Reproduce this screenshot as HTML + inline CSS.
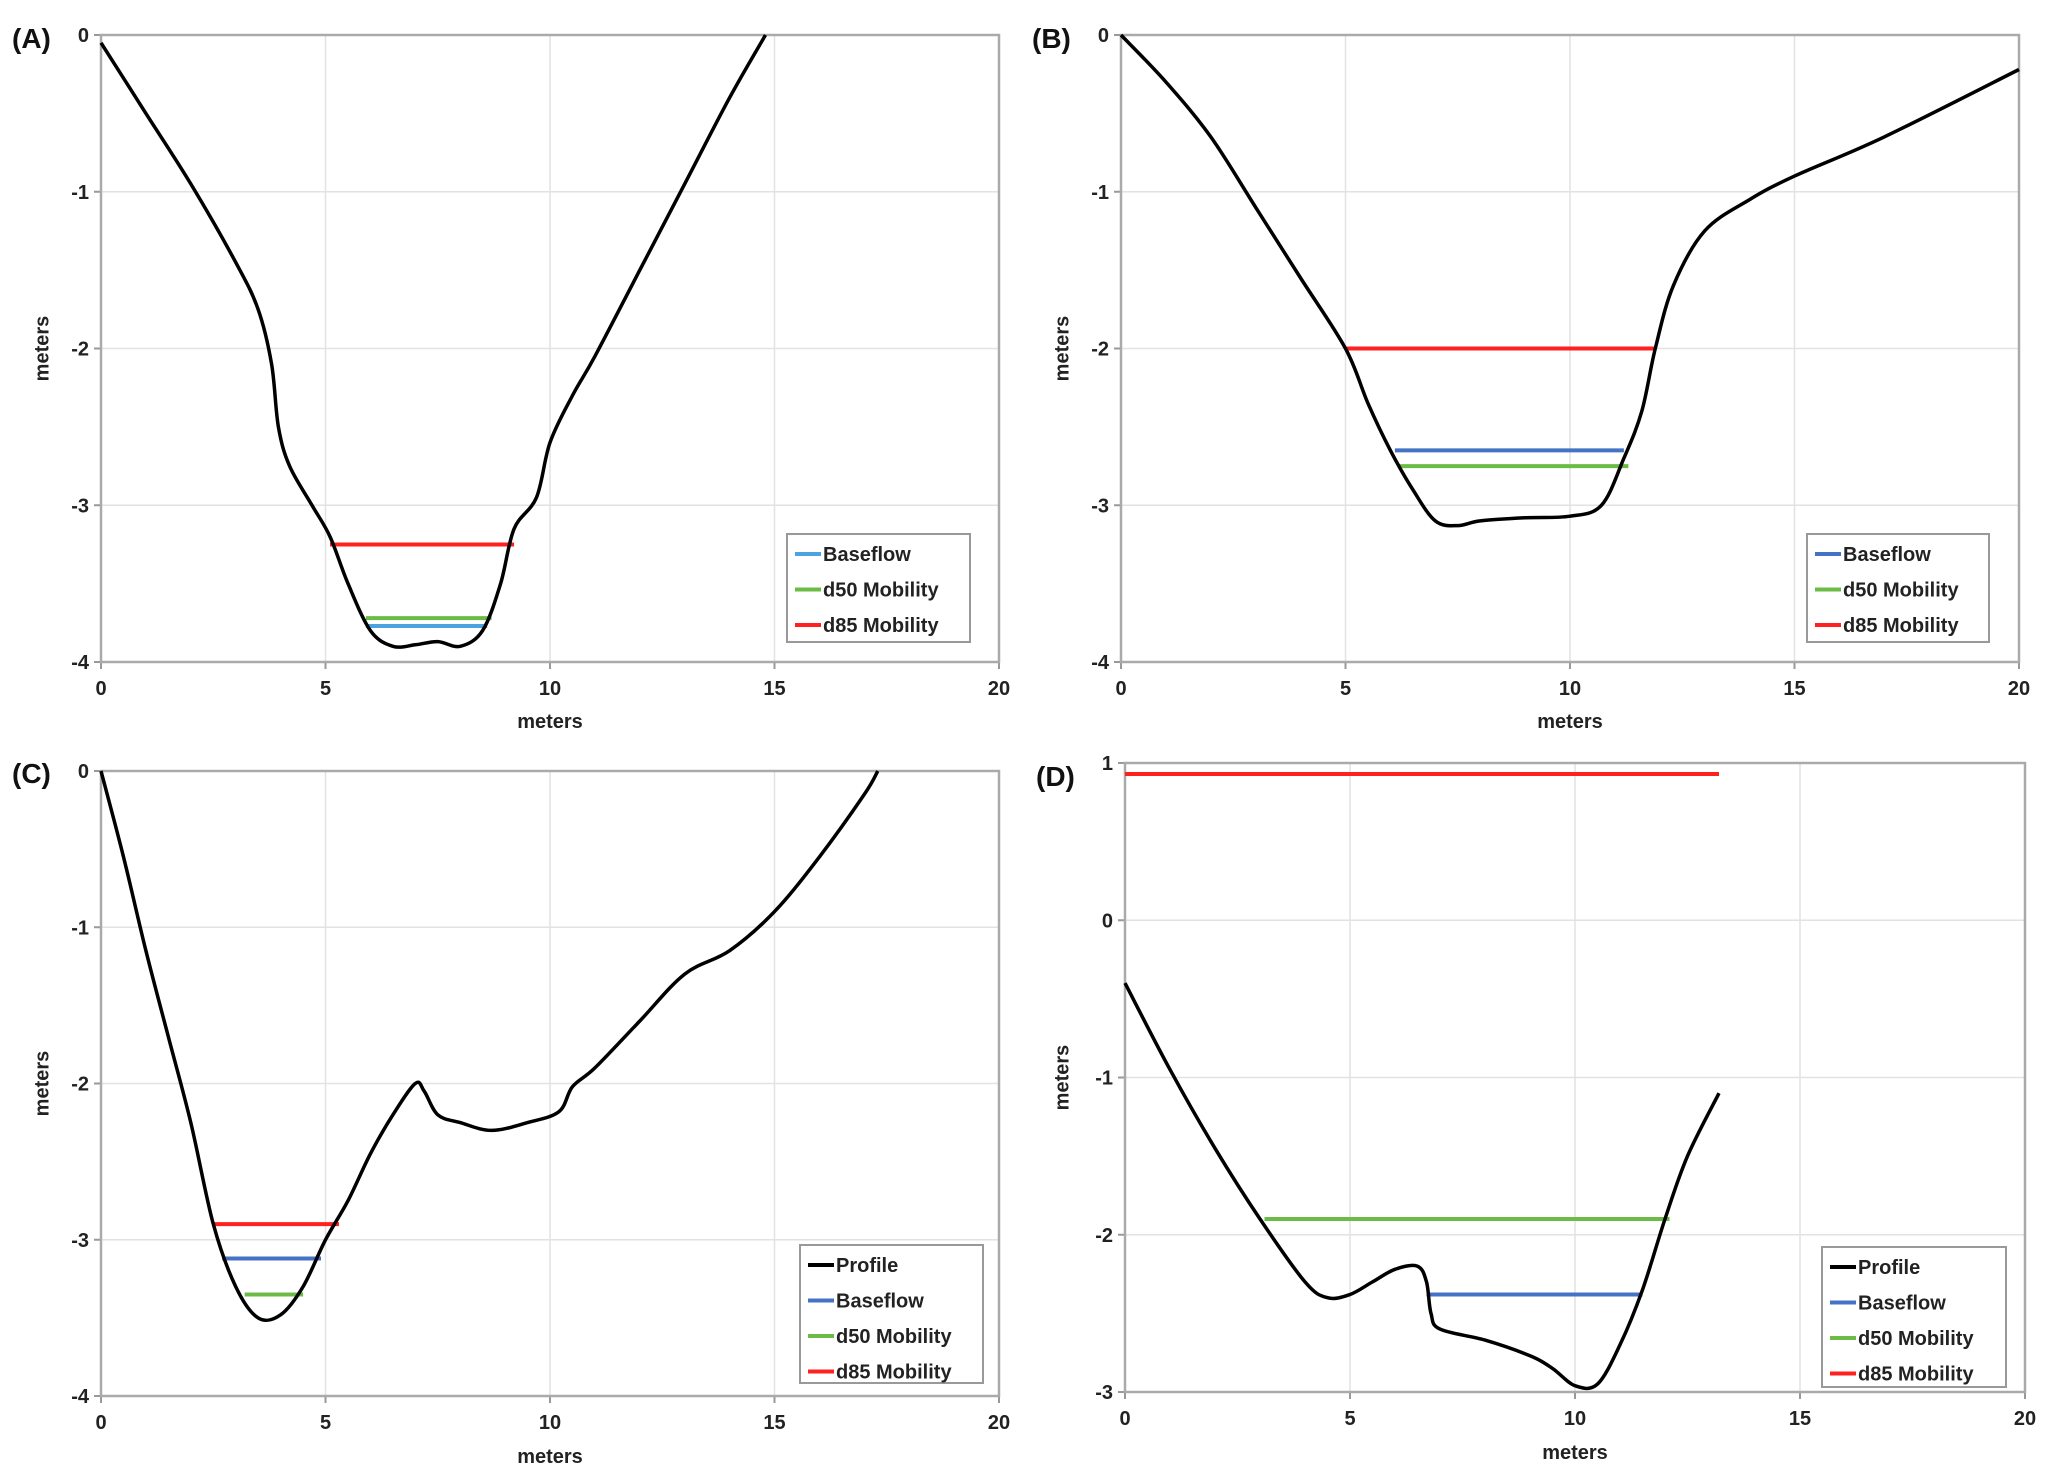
<!DOCTYPE html>
<html><head><meta charset="utf-8"><style>
html,body{margin:0;padding:0;background:#fff;}
svg{display:block;font-family:"Liberation Sans",Arial,sans-serif;}
</style></head><body>
<svg id="fig" width="2056" height="1481" viewBox="0 0 2056 1481"></svg>
<script>
const panelLabels = ["(A)","(B)","(C)","(D)"];
const xTicks = [0,5,10,15,20];
const yTicksA = [0,-1,-2,-3,-4];
const yTicksD = [1,0,-1,-2,-3];
const profileAx = [0,1,2,3,3.5,3.8,3.95,4.2,4.7,5.1,5.5,6,6.5,7,7.5,8,8.5,8.9,9.2,9.7,10,10.5,11,12,13,14,14.8];
const profileAy = [-0.05,-0.5,-0.95,-1.45,-1.75,-2.1,-2.5,-2.75,-3.0,-3.2,-3.5,-3.8,-3.9,-3.89,-3.87,-3.9,-3.8,-3.5,-3.15,-2.95,-2.6,-2.3,-2.05,-1.5,-0.95,-0.4,0];
const profileBx = [0,1,2,3,4,5,5.5,6,6.5,7,7.5,8,9,10,10.7,11.2,11.6,11.9,12.3,13,14,15,17,20];
const profileBy = [0,-0.3,-0.65,-1.1,-1.55,-2.0,-2.35,-2.65,-2.9,-3.1,-3.13,-3.1,-3.08,-3.07,-3.0,-2.7,-2.4,-2.0,-1.6,-1.25,-1.05,-0.9,-0.65,-0.22];
const profileCx = [0,0.5,1,1.5,2,2.5,3,3.5,4,4.5,5,5.5,6,6.5,7,7.2,7.5,8,8.7,9.5,10.2,10.5,11,12,13,14,15,16,17,17.3];
const profileCy = [0,-0.55,-1.15,-1.7,-2.25,-2.9,-3.3,-3.5,-3.48,-3.3,-3.0,-2.75,-2.45,-2.2,-2.0,-2.05,-2.2,-2.25,-2.3,-2.25,-2.18,-2.02,-1.9,-1.6,-1.3,-1.15,-0.9,-0.55,-0.15,0];
const profileDx = [0,1,2,3,4,4.5,5,5.5,6,6.5,6.7,6.8,7,8,9,9.5,10,10.5,11,11.5,12,12.5,13.2];
const profileDy = [-0.4,-0.95,-1.45,-1.9,-2.3,-2.4,-2.38,-2.3,-2.22,-2.2,-2.3,-2.5,-2.6,-2.67,-2.77,-2.85,-2.96,-2.95,-2.7,-2.35,-1.9,-1.5,-1.1];
// levels: [y, x0, x1] for baseflow, d50, d85
const baseflowLevels = [[-3.77,5.9,8.6],[-2.65,6.1,11.2],[-3.12,2.7,4.9],[-2.38,6.7,11.5]];
const d50Levels = [[-3.72,5.9,8.7],[-2.75,6.2,11.3],[-3.35,3.2,4.5],[-1.9,3.1,12.1]];
const d85Levels = [[-3.25,5.1,9.2],[-2.0,5.0,11.9],[-2.9,2.5,5.3],[0.93,0,13.2]];

const NS="http://www.w3.org/2000/svg";
const svg=document.getElementById('fig');
function mk(tag,attrs,parent){const e=document.createElementNS(NS,tag);for(const k in attrs)e.setAttribute(k,attrs[k]);(parent||svg).appendChild(e);return e;}

const panels=[
 {L:101,R:999,T:35,B:662,ymin:-4,ymax:0,yt:yTicksA,px:profileAx,py:profileAy,prof:false,blue:"#4da3e0",leg:[787,534,183,108],lab:[12,48],xt:722,yl:43},
 {L:1121,R:2019,T:35,B:662,ymin:-4,ymax:0,yt:yTicksA,px:profileBx,py:profileBy,prof:false,blue:"#4472c4",leg:[1807,534,182,108],lab:[1032,48],xt:722,yl:1063},
 {L:101,R:999,T:771,B:1396,ymin:-4,ymax:0,yt:yTicksA,px:profileCx,py:profileCy,prof:true,blue:"#4472c4",leg:[800,1245,183,138],lab:[12,783],xt:1457,yl:43},
 {L:1125,R:2025,T:763,B:1392,ymin:-3,ymax:1,yt:yTicksD,px:profileDx,py:profileDy,prof:true,blue:"#4472c4",leg:[1822,1247,184,140],lab:[1036,786],xt:1453,yl:1063}
];
function smooth(pts){let d="M"+pts[0][0]+","+pts[0][1];for(let i=0;i<pts.length-1;i++){const p0=pts[Math.max(0,i-1)],p1=pts[i],p2=pts[i+1],p3=pts[Math.min(pts.length-1,i+2)];const c1=[p1[0]+(p2[0]-p0[0])/6,p1[1]+(p2[1]-p0[1])/6],c2=[p2[0]-(p3[0]-p1[0])/6,p2[1]-(p3[1]-p1[1])/6];d+=" C"+c1+" "+c2+" "+p2;}return d;}

panels.forEach((p,i)=>{
 const g=mk('g',{});
 
 
 const sx=v=>p.L+(v-0)/20*(p.R-p.L);
 const sy=v=>p.B-(v-p.ymin)/(p.ymax-p.ymin)*(p.B-p.T);
 xTicks.forEach(t=>{
  if(t>0){const gl=mk('line',{x1:sx(t),x2:sx(t),y1:p.T,y2:p.B,stroke:"#e2e2e2","stroke-width":1.5},g);}
  mk('line',{x1:sx(t),x2:sx(t),y1:p.B,y2:p.B+7,stroke:"#999","stroke-width":2},g);
  const tx=mk('text',{x:sx(t),y:p.B+33,"text-anchor":"middle","font-size":20,"font-weight":"bold",fill:"#222"},g);tx.textContent=t;
  
 });
 p.yt.forEach(t=>{
  const y=sy(t);
  if(t!==p.ymin){const gl=mk('line',{x1:p.L,x2:p.R,y1:y,y2:y,stroke:"#e2e2e2","stroke-width":1.5},g);}
  mk('line',{x1:p.L-7,x2:p.L,y1:y,y2:y,stroke:"#999","stroke-width":2},g);
  const tx=mk('text',{x:p.L-12,y:y+7,"text-anchor":"end","font-size":20,"font-weight":"bold",fill:"#222"},g);tx.textContent=t;
  
 });
 const fr=mk('rect',{x:p.L,y:p.T,width:p.R-p.L,height:p.B-p.T,fill:"none",stroke:"#aaa","stroke-width":2.5},g);
 
 const xt=mk('text',{x:(p.L+p.R)/2,y:p.xt+6,"text-anchor":"middle","font-size":20,"font-weight":"bold",fill:"#222"},g);xt.textContent="meters";
 
 const yc=(p.T+p.B)/2;
 const yt=mk('text',{x:p.yl,y:yc,"text-anchor":"middle","font-size":20,"font-weight":"bold",fill:"#222",transform:`rotate(-90 ${p.yl} ${yc})`,"dominant-baseline":"middle"},g);yt.textContent="meters";
 
 const pl=mk('text',{x:p.lab[0],y:p.lab[1],"font-size":28,"font-weight":"bold",fill:"#111"},g);pl.textContent=panelLabels[i];
 
 const lv=[[d85Levels[i],"#ff2020","d85-line"],[d50Levels[i],"#6cbb46","d50-line"],[baseflowLevels[i],p.blue,"baseflow-line"]];
 lv.forEach(([l,c,n])=>{const ln=mk('line',{x1:sx(l[1]),x2:sx(l[2]),y1:sy(l[0]),y2:sy(l[0]),stroke:c,"stroke-width":4},g);});
 const pts=p.px.map((x,k)=>[sx(x).toFixed(1),sy(p.py[k]).toFixed(1)].map(Number));
 const pa=mk('path',{d:smooth(pts),fill:"none",stroke:"#000","stroke-width":3.5,"stroke-linejoin":"round"},g);
 
 const [lx,ly,lw,lh]=p.leg;
 const lg=mk('g',{},g);
 mk('rect',{x:lx,y:ly,width:lw,height:lh,fill:"#fff",stroke:"#999","stroke-width":2},lg);
 const entries=(p.prof?[["Profile","#000"]]:[]).concat([["Baseflow",p.blue],["d50 Mobility","#6cbb46"],["d85 Mobility","#ff2020"]]);
 entries.forEach((e,k)=>{const y=ly+20+k*35.5;
  const en=mk('g',{},lg);
  mk('line',{x1:lx+8,x2:lx+34,y1:y,y2:y,stroke:e[1],"stroke-width":4},en);
  const t=mk('text',{x:lx+36,y:y+7,"font-size":20,"font-weight":"bold",fill:"#222"},en);t.textContent=e[0];});
});
</script>
</body></html>
